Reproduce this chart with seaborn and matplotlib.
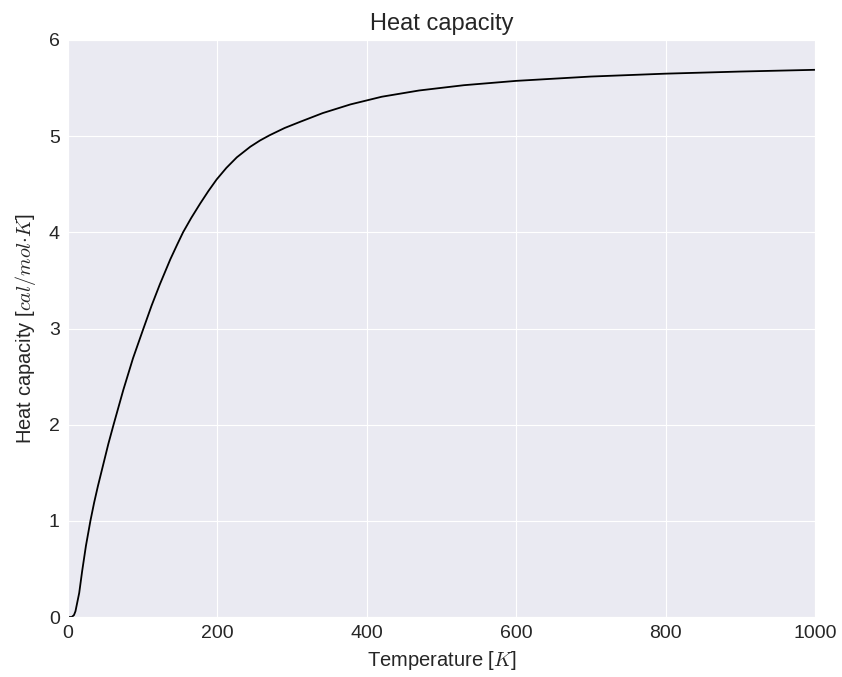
import matplotlib
matplotlib.use('Agg')
import matplotlib.pyplot as plt
import seaborn as sns
import pandas as pd

# values
temperature = [0, 5, 8, 10, 15, 19, 24, 30, 35, 40, 47, 54, 61, 74, 87, 101,
               112, 123, 137, 146, 154, 165, 177, 188, 199, 212, 226, 244,
               257, 270, 290, 311, 341, 378, 420, 470, 530, 600, 700, 800,
               900, 1000]
heat_capacity = [0, 0, 0.02, 0.06, 0.25, 0.48, 0.74, 1.0, 1.19, 1.36, 1.58,
                 1.80, 2.0, 2.36, 2.69, 3.0, 3.24, 3.46, 3.72, 3.87, 4.0,
                 4.15, 4.30, 4.43, 4.55, 4.67, 4.78, 4.89, 4.955, 5.01, 5.085,
                 5.15, 5.24, 5.33, 5.41, 5.475, 5.53, 5.575, 5.62, 5.65,
                 5.672, 5.69]
x_ticks = [0, 200, 400, 600, 800, 1000]
y_ticks = [0, 1, 2, 3, 4, 5, 6]

df = pd.DataFrame({'T': temperature, 'Cp': heat_capacity})

sns.set_style('darkgrid')
plt.rcParams['font.family'] = ['Liberation Sans', 'DejaVu Sans']
plt.rcParams['mathtext.fontset'] = 'cm'

fig = plt.figure(figsize=(8.42, 6.77), dpi=100)
ax = fig.add_axes([68 / 842, 60 / 677, 747 / 842, 577 / 677])

sns.lineplot(data=df, x='T', y='Cp', color='black', linewidth=1.3, ax=ax)

ax.set_xlim(0, 1000)
ax.set_ylim(0, 6)
ax.set_xticks(x_ticks)
ax.set_yticks(y_ticks)
ax.tick_params(labelsize=14, colors='.15', length=0, pad=6)
ax.set_title('Heat capacity', fontsize=17, color='.15', pad=7)
ax.set_xlabel(r'Temperature [$K$]', fontsize=14.5, color='.15', labelpad=5)
ax.set_ylabel(r'Heat capacity [$cal/mol{\cdot}K$]', fontsize=14.5, color='.15',
              labelpad=8)

fig.savefig('out.png', dpi=100)
